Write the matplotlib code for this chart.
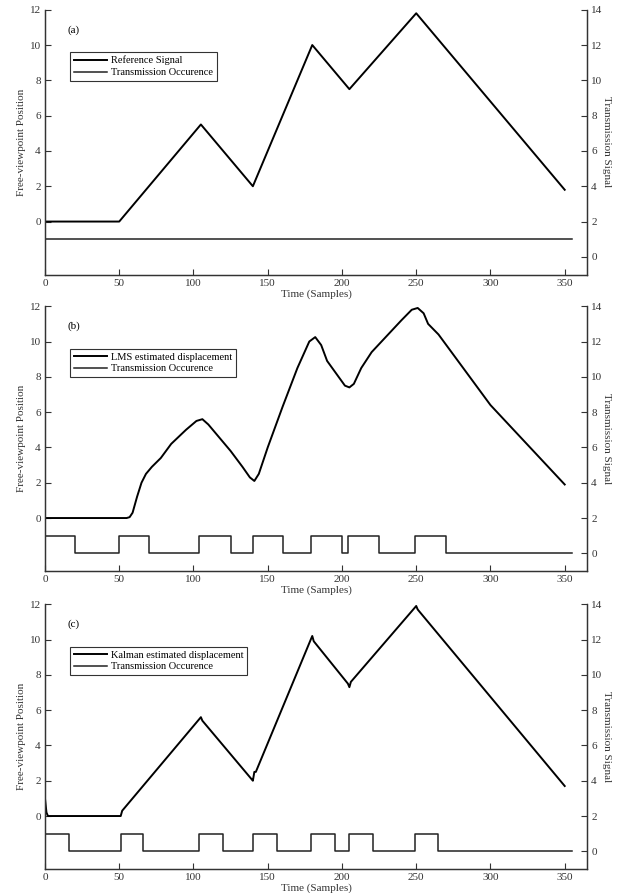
import numpy as np
import matplotlib.pyplot as plt

plt.rcParams['font.family'] = ['Liberation Serif', 'DejaVu Serif']

# (a) reference signal breakpoints
ref_t = [0, 50, 105, 140, 180, 205, 250, 350]
ref_y = [0, 0, 5.5, 2.0, 10.0, 7.5, 11.8, 1.8]

# (b) LMS estimate
lms_t = [0, 55, 57, 59, 62, 65, 68, 72, 78, 85, 95, 102, 106, 110, 118, 125, 133,
         138, 141, 144, 150, 160, 170, 178, 182, 186, 190, 196, 202, 205, 208, 213,
         220, 230, 240, 247, 251, 255, 258, 265, 300, 350]
lms_y = [0, 0, 0.05, 0.3, 1.2, 2.0, 2.5, 2.9, 3.4, 4.2, 5.0, 5.5, 5.6, 5.3, 4.5, 3.8, 2.9,
         2.3, 2.1, 2.5, 4.0, 6.3, 8.5, 10.0, 10.25, 9.8, 8.9, 8.2, 7.5, 7.4, 7.6, 8.5,
         9.4, 10.3, 11.2, 11.8, 11.9, 11.6, 11.0, 10.4, 6.4, 1.9]

# (c) Kalman estimate
kal_t = [0, 1, 2, 51, 52, 104, 105, 106, 139, 140, 141, 142, 179, 180, 181, 204, 205,
         206, 249, 250, 251, 350]
kal_y = [1.0, 0.2, 0, 0, 0.3, 5.5, 5.6, 5.4, 2.1, 2.0, 2.5, 2.5, 10.0, 10.2, 9.9, 7.5, 7.3,
         7.6, 11.8, 11.9, 11.7, 1.7]

# transmission on/off switching times (1 = transmitting)
tx_a_t = [0, 355]
tx_a_y = [1, 1]
tx_b_t = [0, 20, 50, 70, 104, 125, 140, 160, 179, 200, 204, 225, 249, 270, 355]
tx_b_y = [1, 0, 1, 0, 1, 0, 1, 0, 1, 0, 1, 0, 1, 0, 0]
tx_c_t = [0, 16, 51, 66, 104, 120, 140, 156, 179, 195, 205, 221, 249, 265, 355]
tx_c_y = [1, 0, 1, 0, 1, 0, 1, 0, 1, 0, 1, 0, 1, 0, 0]

panels = [
    ("(a)", "Reference Signal", ref_t, ref_y, tx_a_t, tx_a_y),
    ("(b)", "LMS estimated displacement", lms_t, lms_y, tx_b_t, tx_b_y),
    ("(c)", "Kalman estimated displacement", kal_t, kal_y, tx_c_t, tx_c_y),
]

fig = plt.figure(figsize=(6.22, 8.93), dpi=100)
bottoms = [0.6926, 0.3606, 0.0269]
tcol = '#333333'

for (tag, name, t, y, tt, ty), b in zip(panels, bottoms):
    ax = fig.add_axes([0.0723, b, 0.8714, 0.2965])
    ax2 = ax.twinx()
    l1, = ax.plot(t, y, color='black', lw=1.4)
    l2, = ax2.step(tt, ty, where='post', color='#222222', lw=1.1)
    ax.set_xlim(0, 365)
    ax.set_ylim(-3, 12)
    ax2.set_ylim(-1, 14)
    ax.set_xticks(np.arange(0, 351, 50))
    ax.set_yticks(np.arange(0, 13, 2))
    ax2.set_yticks(np.arange(0, 15, 2))
    for a in (ax, ax2):
        a.spines['top'].set_visible(False)
        for s in a.spines.values():
            s.set_color(tcol)
            s.set_linewidth(0.9)
        a.tick_params(direction='in', labelsize=8, colors=tcol, length=4, width=0.8, pad=3)
    ax.set_xlabel("Time (Samples)", fontsize=8, color=tcol, labelpad=1)
    ax.set_ylabel("Free-viewpoint Position", fontsize=8, color=tcol, labelpad=3)
    ax2.set_ylabel("Transmission Signal", fontsize=8, color=tcol, rotation=270, labelpad=6)
    ax.text(15, 10.7, tag, fontsize=8, color='black')
    leg = ax.legend([l1, l2], [name, "Transmission Occurence"], loc='upper left',
                    bbox_to_anchor=(0.046, 0.84), fontsize=7.5, frameon=True,
                    fancybox=False, borderpad=0.35, labelspacing=0.25, handlelength=3.2,
                    handletextpad=0.4, borderaxespad=0)
    leg.get_frame().set_edgecolor('black')
    leg.get_frame().set_linewidth(0.8)

plt.savefig("out.png", dpi=100)
